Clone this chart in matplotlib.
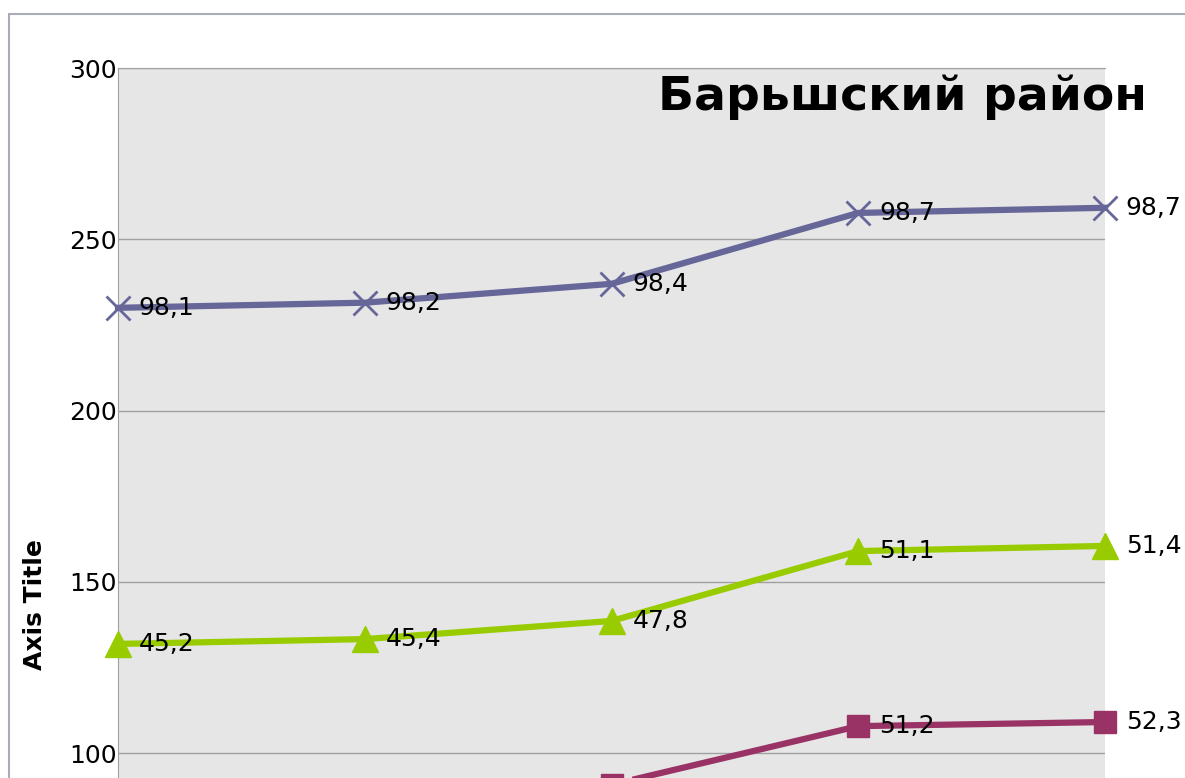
import numpy as np
import matplotlib.pyplot as plt
from matplotlib.patches import Rectangle

# chart data (stacked line chart)
categories = [0, 1, 2, 3, 4]
bottom_level = [86.7, 87.9, 90.8, 107.9, 109.1]   # cumulative level of the maroon series
maroon_labels = [None, None, None, 51.2, 52.3]    # first labels fall below the picture
green_labels = [45.2, 45.4, 47.8, 51.1, 51.4]
violet_labels = [98.1, 98.2, 98.4, 98.7, 98.7]
y_ticks = [100, 150, 200, 250, 300]               # lower ticks fall below the picture

title_text = "Барьшский район"
axis_title = "Axis Title"

# stacked levels
green_level = np.array(bottom_level) + np.array(green_labels)
violet_level = green_level + np.array(violet_labels)

plt.rcParams['font.family'] = ['DejaVu Sans']

fig = plt.figure(figsize=(11.85, 7.78), dpi=100)

# outer chart border (goes off the right and bottom of the picture)
fig.patches.append(Rectangle((9 / 1185, -0.2), 1.2, 1 - 14 / 778 + 0.2,
                             transform=fig.transFigure, fill=False,
                             edgecolor='#A8ADB8', lw=1.5))

# plot area: 300 at 68 px from top, 50 units = 171.3 px
top = 1 - 68 / 778
height = 300 * 171.3 / 50 / 778
ax = fig.add_axes([118 / 1185, top - height, 987 / 1185, height])
ax.set_facecolor('#E6E6E6')
ax.set_xlim(0, 4)
ax.set_ylim(0, 300)
ax.set_yticks(y_ticks)
ax.set_xticks([])
ax.grid(axis='y', color='#A0A0A0', lw=1)
ax.set_axisbelow(True)
for side in ['right', 'bottom']:
    ax.spines[side].set_visible(False)
ax.spines['left'].set_color('#A0A0A0')
ax.spines['top'].set_color('#A0A0A0')
ax.tick_params(axis='y', length=0, pad=1, labelsize=18)

ax.plot(categories, bottom_level, color='#993366', lw=4.5, marker='s',
        markersize=16, clip_on=False, zorder=3)
ax.plot(categories, green_level, color='#99CC00', lw=4.5, marker='^',
        markersize=19, clip_on=False, zorder=3)
ax.plot(categories, violet_level, color='#666699', lw=4.5, marker='x',
        markersize=17, mew=2, clip_on=False, zorder=3)

def fmt(v):
    return ('%.1f' % v).replace('.', ',')

for level, labels in [(bottom_level, maroon_labels),
                      (green_level, green_labels),
                      (violet_level, violet_labels)]:
    for x, y, v in zip(categories, level, labels):
        if v is None:
            continue
        ax.annotate(fmt(v), (x, y), xytext=(15, 0), textcoords='offset points',
                    va='center', ha='left', fontsize=18, color='black',
                    annotation_clip=False, zorder=4)

fig.text(902 / 1185, 1 - 97 / 778, title_text, ha='center', va='center',
         fontsize=34, fontweight='bold')
fig.text(35 / 1185, 1 - 605 / 778, axis_title, rotation=90, ha='center',
         va='center', fontsize=18, fontweight='bold')

fig.savefig('out.png', dpi=100)
